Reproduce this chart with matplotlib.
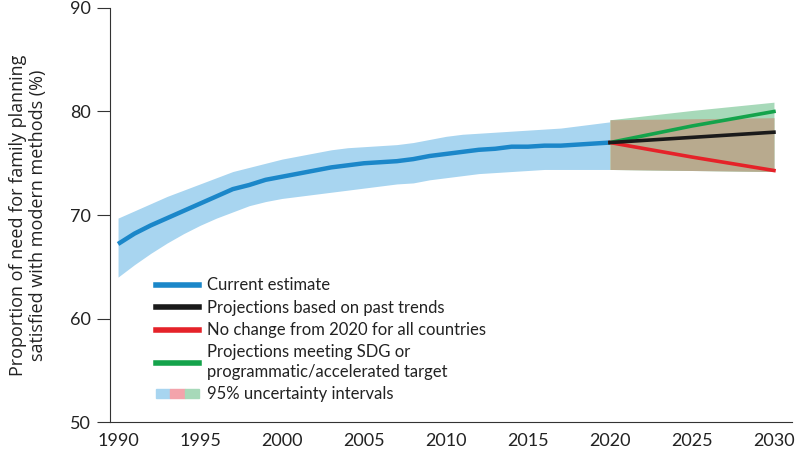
import matplotlib.pyplot as plt
from matplotlib.lines import Line2D
from matplotlib.patches import Patch
from matplotlib.legend_handler import HandlerTuple
import numpy as np

# current estimate 1990-2020
years = np.arange(1990, 2021)
estimate = [67.2, 68.2, 69.0, 69.7, 70.4, 71.1, 71.8, 72.5, 72.9, 73.4, 73.7,
            74.0, 74.3, 74.6, 74.8, 75.0, 75.1, 75.2, 75.4, 75.7, 75.9,
            76.1, 76.3, 76.4, 76.6, 76.6, 76.7, 76.7, 76.8, 76.9, 77.0]
est_upper = [69.7, 70.4, 71.1, 71.8, 72.4, 73.0, 73.6, 74.2, 74.6, 75.0, 75.4,
             75.7, 76.0, 76.3, 76.5, 76.6, 76.7, 76.8, 77.0, 77.3, 77.6,
             77.8, 77.9, 78.0, 78.1, 78.2, 78.3, 78.4, 78.6, 78.8, 79.0]
est_lower = [64.0, 65.2, 66.3, 67.3, 68.2, 69.0, 69.7, 70.3, 70.9, 71.3, 71.6,
             71.8, 72.0, 72.2, 72.4, 72.6, 72.8, 73.0, 73.1, 73.4, 73.6,
             73.8, 74.0, 74.1, 74.2, 74.3, 74.4, 74.4, 74.4, 74.4, 74.4]

# projections 2020-2030
proj_years = [2020, 2025, 2030]
past_trends = [77.0, 77.5, 78.0]
no_change = [77.0, 75.6, 74.3]
sdg_target = [77.0, 78.6, 80.0]
proj_lower = [74.4, 74.3, 74.2]
trend_upper = [79.2, 79.3, 79.4]
sdg_upper = [79.2, 80.1, 80.9]

blue = '#1b87c9'
blue_band = '#a8d5f0'
red = '#e52229'
green = '#14a34b'
green_band = '#a7d9b9'
tan_band = '#b8aa8e'
pink_band = '#f3a3ab'
txt = '#222222'

plt.rcParams['font.family'] = ['Lato', 'DejaVu Sans']

fig = plt.figure(figsize=(8, 4.49), dpi=100)
ax = fig.add_axes([0.1375, 0.0601, 0.8525, 0.9221])

ax.fill_between(years, est_lower, est_upper, color=blue_band, lw=0)
ax.fill_between(proj_years, proj_lower, sdg_upper, color=green_band, lw=0)
ax.fill_between(proj_years, proj_lower, trend_upper, color=tan_band, lw=0)

ax.plot(years, estimate, color=blue, lw=3.2, solid_capstyle='butt')
ax.plot(proj_years, sdg_target, color=green, lw=2.6)
ax.plot(proj_years, no_change, color=red, lw=2.6)
ax.plot(proj_years, past_trends, color='#1a1a1a', lw=2.6)

ax.set_xlim(1989.51, 2031.1)
ax.set_ylim(50, 90)
ax.set_xticks(range(1990, 2031, 5))
ax.set_yticks(range(50, 91, 10))
ax.tick_params(axis='x', length=0, pad=8, labelsize=13, colors=txt)
ax.tick_params(axis='y', length=9.5, width=0.8, pad=4, labelsize=13, colors=txt)
ax.tick_params(axis='y', color='#333333')
for s in ['top', 'right']:
    ax.spines[s].set_visible(False)
for s in ['left', 'bottom']:
    ax.spines[s].set_linewidth(0.8)
    ax.spines[s].set_color('#333333')

ax.set_ylabel('Proportion of need for family planning\nsatisfied with modern methods (%)',
              fontsize=13, color=txt, linespacing=1.1,
              family=['Open Sans', 'DejaVu Sans'])
ax.yaxis.set_label_coords(-0.093, 0.5)

handles = [
    Line2D([], [], color=blue, lw=4),
    Line2D([], [], color='#1a1a1a', lw=4),
    Line2D([], [], color=red, lw=4),
    Line2D([], [], color=green, lw=4),
    (Patch(color=blue_band), Patch(color=pink_band), Patch(color=green_band)),
]
labels = ['Current estimate',
          'Projections based on past trends',
          'No change from 2020 for all countries',
          'Projections meeting SDG or\nprogrammatic/accelerated target',
          '95% uncertainty intervals']
leg = ax.legend(handles, labels, loc='lower left', bbox_to_anchor=(0.045, 0.012),
                frameon=False, fontsize=12, handlelength=2.6, handleheight=0.45,
                handletextpad=0.45, labelspacing=0.37,
                handler_map={tuple: HandlerTuple(ndivide=None, pad=0)})
for t in leg.get_texts():
    t.set_color(txt)
    t.set_linespacing(1.3)

fig.savefig('out.png', dpi=100)
